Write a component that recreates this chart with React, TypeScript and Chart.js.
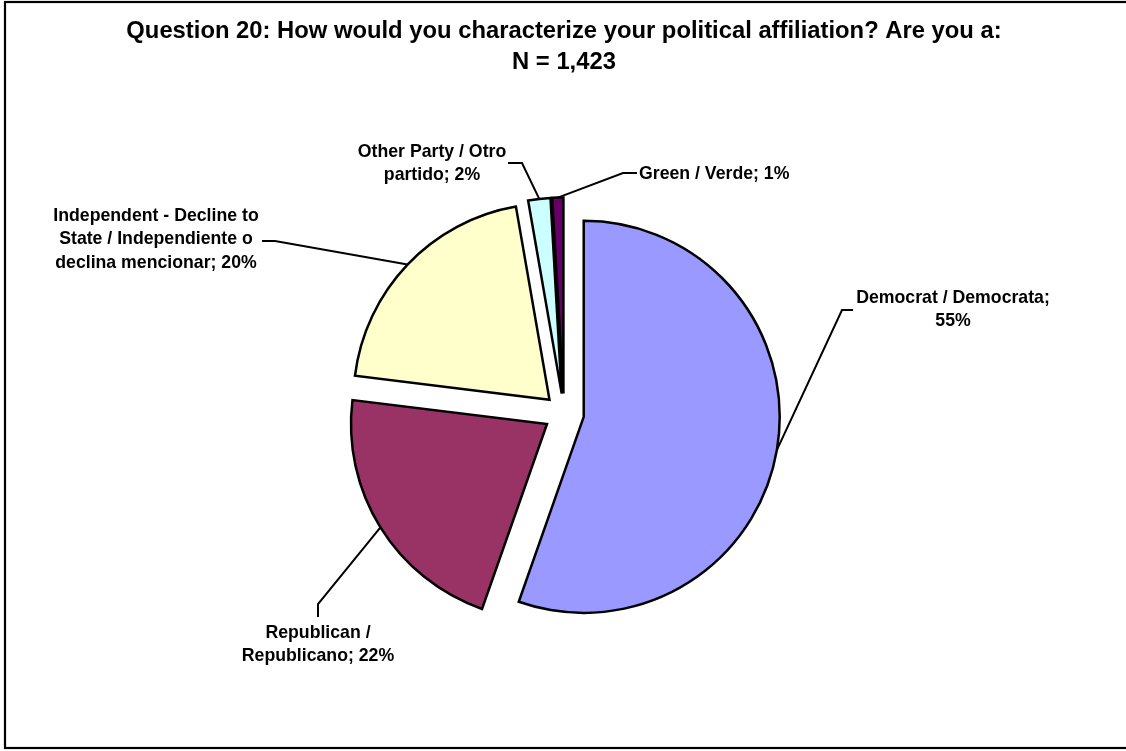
import React, { useEffect, useRef } from "react";
import { Chart, registerables } from "chart.js";

Chart.register(...registerables);

// ---- Data ----
const categories = [
  "Democrat / Democrata",
  "Republican / Republicano",
  "Independent - Decline to State / Independiente o declina mencionar",
  "Other Party / Otro partido",
  "Green / Verde",
];
const counts = [788, 307, 289, 26, 13];
const sliceColors = ["#9999FF", "#993366", "#FFFFCC", "#CCFFFF", "#660066"];
const titleLines = [
  "Question 20: How would you characterize your political affiliation? Are you a:",
  "N = 1,423",
];

// ---- Layout / style ----
const FONT = "'Liberation Sans', Arial, Helvetica, sans-serif";
const LABEL_SIZE = 17.7;
const LABEL_LINE = 23.5;
const EXPLODE = 20;

const labelLayout = [
  { x: 953, y: 298, align: "center", wrap: 200, elbow: [842, 310], end: [853, 310] },
  { x: 318, y: 633, align: "center", wrap: 160, elbow: [318, 604], end: [318, 617] },
  { x: 156, y: 216, align: "center", wrap: 212, elbow: [275, 241], end: [262, 241] },
  { x: 432, y: 152, align: "center", wrap: 160, elbow: [522, 163], end: [508, 163] },
  { x: 639, y: 174, align: "left", wrap: 300, elbow: [623, 173], end: [637, 173] },
];

function wrapText(ctx: CanvasRenderingContext2D, text: string, maxW: number): string[] {
  const words = text.split(" ");
  const lines: string[] = [];
  let cur = "";
  for (const w of words) {
    const test = cur ? cur + " " + w : w;
    if (cur && ctx.measureText(test).width > maxW) {
      lines.push(cur);
      cur = w;
    } else {
      cur = test;
    }
  }
  if (cur) lines.push(cur);
  return lines;
}

const explodePlugin = {
  id: "explodeSlices",
  afterDatasetUpdate(chart: any, args: any) {
    args.meta.data.forEach((el: any) => {
      const mid = (el.startAngle + el.endAngle) / 2;
      el.x += Math.cos(mid) * EXPLODE;
      el.y += Math.sin(mid) * EXPLODE;
    });
  },
};

const labelPlugin = {
  id: "sliceLabels",
  afterDatasetsDraw(chart: any) {
    const ctx: CanvasRenderingContext2D = chart.ctx;
    const meta = chart.getDatasetMeta(0);
    const total = counts.reduce((a, b) => a + b, 0);
    ctx.save();
    ctx.font = `bold ${LABEL_SIZE}px ${FONT}`;
    ctx.fillStyle = "#000";
    ctx.strokeStyle = "#000";
    ctx.lineWidth = 2;
    ctx.textBaseline = "middle";
    meta.data.forEach((el: any, i: number) => {
      const L = labelLayout[i];
      const mid = (el.startAngle + el.endAngle) / 2;
      const sx = el.x + Math.cos(mid) * el.outerRadius;
      const sy = el.y + Math.sin(mid) * el.outerRadius;
      ctx.beginPath();
      ctx.moveTo(sx, sy);
      ctx.lineTo(L.elbow[0], L.elbow[1]);
      ctx.lineTo(L.end[0], L.end[1]);
      ctx.stroke();
      const pct = Math.round((counts[i] / total) * 100);
      const lines = wrapText(ctx, `${categories[i]}; ${pct}%`, L.wrap);
      ctx.textAlign = L.align as CanvasTextAlign;
      lines.forEach((ln, k) => ctx.fillText(ln, L.x, L.y + k * LABEL_LINE));
    });
    ctx.restore();
  },
  afterDraw(chart: any) {
    const ctx: CanvasRenderingContext2D = chart.ctx;
    ctx.save();
    ctx.strokeStyle = "#000";
    ctx.lineWidth = 2.2;
    ctx.strokeRect(5, 2, 1130, 746);
    ctx.restore();
  },
};

export default function App() {
  const canvasRef = useRef<HTMLCanvasElement | null>(null);

  useEffect(() => {
    if (!canvasRef.current) return;
    const chart = new Chart(canvasRef.current, {
      type: "pie",
      data: {
        labels: categories,
        datasets: [
          {
            data: counts,
            backgroundColor: sliceColors,
            borderColor: "#000",
            borderWidth: 2.5,
            borderJoinStyle: "miter",
          } as any,
        ],
      },
      options: {
        responsive: false,
        animation: false,
        events: [],
        radius: 196,
        layout: { padding: { left: 2, right: 0, top: 0, bottom: 1.9 } },
        plugins: {
          legend: { display: false },
          tooltip: { enabled: false },
          title: {
            display: true,
            text: titleLines,
            color: "#000",
            font: { family: FONT, size: 23.8, weight: "bold", lineHeight: 1.3 },
            padding: { top: 16, bottom: 0 },
          },
        },
      } as any,
      plugins: [explodePlugin, labelPlugin],
    });
    return () => chart.destroy();
  }, []);

  return (
    <div style={{ position: "fixed", left: 0, top: 0, width: 1126, height: 751, background: "#fff" }}>
      <canvas ref={canvasRef} width={1126} height={751} style={{ display: "block" }} />
    </div>
  );
}
